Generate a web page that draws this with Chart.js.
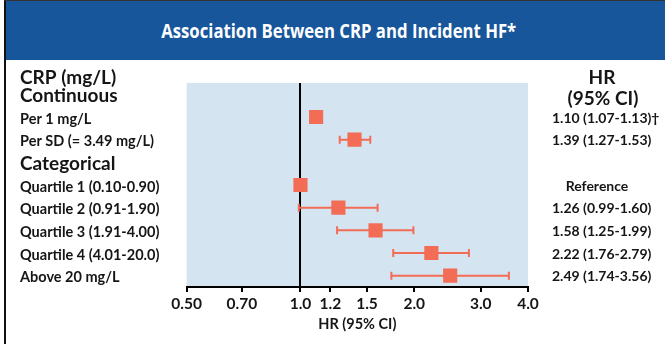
<!DOCTYPE html>
<html>
<head>
<meta charset="utf-8">
<script src="https://cdn.jsdelivr.net/npm/chart.js@4/dist/chart.umd.min.js"></script>
<style>
  html, body { margin: 0; padding: 0; background: #fff; }
  #wrap { position: relative; width: 665px; height: 344px; overflow: hidden; background: #fff; }
  #chart { position: absolute; left: 0; top: 0; }
  #title {
    position: absolute; left: 6px; top: 1px; right: 0; height: 59px;
    background: #17569a; color: #fff;
    display: flex; align-items: center; justify-content: center;
    font: bold 19px "Open Sans", sans-serif;
    padding-left: 6px; box-sizing: border-box;
  }
  #title span { display: inline-block; transform: scaleX(0.88); white-space: nowrap; }
  #frame { position: absolute; left: 4px; top: 0; width: 2px; height: 344px; background: #111; }
  #topline { position: absolute; left: 4px; top: 0; right: 0; height: 1px; background: #333; }
</style>
</head>
<body>
<div id="wrap">
  <canvas id="chart" width="665" height="344"></canvas>
  <div id="title"><span>Association Between CRP and Incident HF*</span></div>
  <div id="frame"></div>
  <div id="topline"></div>
</div>
<script>
// Hazard ratios of incident heart failure by CRP level
const rowLabels = [
  'Per 1 mg/L',
  'Per SD (= 3.49 mg/L)',
  'Quartile 1 (0.10-0.90)',
  'Quartile 2 (0.91-1.90)',
  'Quartile 3 (1.91-4.00)',
  'Quartile 4 (4.01-20.0)',
  'Above 20 mg/L'
];
const groupHeadings = ['Continuous', 'Categorical'];
const hr     = [1.10, 1.39, 1.00, 1.26, 1.58, 2.22, 2.49];
const ciLow  = [1.07, 1.27, null, 0.99, 1.25, 1.76, 1.74];
const ciHigh = [1.13, 1.53, null, 1.60, 1.99, 2.79, 3.56];
const rowNotes = ['\u2020', '', '', '', '', '', ''];
const referenceRow = 'Quartile 1 (0.10-0.90)';
const xTicks = [0.5, 0.7, 1.0, 1.2, 1.5, 2.0, 3.0, 4.0];
const xTickLabels = ['0.50', '0.70', '1.0', '1.2', '1.5', '2.0', '3.0', '4.0'];

// category slots: group headings interleaved with their rows
const yLabels = [groupHeadings[0], rowLabels[0], rowLabels[1], groupHeadings[1], ...rowLabels.slice(2)];

const FONT = 'Lato, "Open Sans", sans-serif';
const INK = '#151515';
const MARK = '#f26c56';
const PLOT_BG = '#d4e5f1';

function hrText(i) {
  if (rowLabels[i] === referenceRow) return 'Reference';
  return hr[i].toFixed(2) + ' (' + ciLow[i].toFixed(2) + '-' + ciHigh[i].toFixed(2) + ')' + rowNotes[i];
}

const plotBackground = {
  id: 'plotBackground',
  beforeDraw(chart) {
    const { ctx, chartArea: a } = chart;
    ctx.save();
    ctx.fillStyle = PLOT_BG;
    ctx.fillRect(a.left, a.top, a.right - a.left, a.bottom - a.top);
    ctx.restore();
  }
};

const whiskers = {
  id: 'whiskers',
  beforeDatasetsDraw(chart) {
    const { ctx, scales: { x, y } } = chart;
    ctx.save();
    ctx.strokeStyle = MARK;
    ctx.lineWidth = 2;
    rowLabels.forEach((r, i) => {
      if (ciLow[i] == null) return;
      const py = y.getPixelForValue(yLabels.indexOf(r));
      const x0 = x.getPixelForValue(ciLow[i]);
      const x1 = x.getPixelForValue(ciHigh[i]);
      ctx.beginPath();
      ctx.moveTo(x0, py); ctx.lineTo(x1, py);
      ctx.moveTo(x0, py - 4); ctx.lineTo(x0, py + 4);
      ctx.moveTo(x1, py - 4); ctx.lineTo(x1, py + 4);
      ctx.stroke();
    });
    ctx.restore();
  }
};

const sideText = {
  id: 'sideText',
  afterDraw(chart) {
    const { ctx, scales: { y }, chartArea: a } = chart;
    ctx.save();
    ctx.fillStyle = INK;
    ctx.textBaseline = 'middle';
    ctx.font = 'bold 19px ' + FONT;
    ctx.textAlign = 'left';
    ctx.fillText('CRP (mg/L)', 20, 78);
    ctx.textAlign = 'center';
    ctx.fillText('HR', 602, 78);
    ctx.fillText('(95% CI)', 603, 99);
    ctx.font = 'bold 14px ' + FONT;
    rowLabels.forEach((r, i) => {
      const py = y.getPixelForValue(yLabels.indexOf(r)) + 1;
      if (r === referenceRow) {
        ctx.textAlign = 'center';
        ctx.fillText(hrText(i), 597, py);
      } else {
        ctx.textAlign = 'left';
        ctx.fillText(hrText(i), a.right + 24, py);
      }
    });
    ctx.restore();
  }
};

new Chart(document.getElementById('chart'), {
  type: 'scatter',
  data: {
    datasets: [{
      data: rowLabels.map((r, i) => ({ x: hr[i], y: r })),
      pointStyle: 'rect',
      pointRadius: 10,
      pointHoverRadius: 10,
      backgroundColor: MARK,
      borderColor: MARK,
      borderWidth: 0
    }]
  },
  options: {
    responsive: false,
    animation: false,
    devicePixelRatio: 1,
    layout: { padding: { left: 20, right: 137, top: 83, bottom: 0 } },
    plugins: { legend: { display: false }, tooltip: { enabled: false } },
    scales: {
      x: {
        type: 'logarithmic',
        min: 0.5,
        max: 4,
        afterBuildTicks: (s) => { s.ticks = xTicks.map(v => ({ value: v })); },
        afterFit: (s) => { s.height = 57; },
        ticks: {
          autoSkip: false,
          maxRotation: 0,
          padding: 3,
          color: INK,
          font: { family: FONT, size: 15.5, weight: 'bold' },
          callback: (v) => { const i = xTicks.indexOf(v); return i >= 0 ? xTickLabels[i] : ''; }
        },
        grid: {
          drawOnChartArea: true,
          color: (c) => (c.tick && c.tick.value === 1 ? '#000' : 'rgba(0,0,0,0)'),
          lineWidth: 2,
          tickColor: '#000',
          tickLength: 5,
          tickWidth: 2
        },
        border: { display: true, color: '#000', width: 2 },
        title: {
          display: true,
          text: 'HR (95% CI)',
          color: INK,
          font: { family: FONT, size: 14.5, weight: 'bold' },
          padding: { top: 2, bottom: 11 }
        }
      },
      y: {
        type: 'category',
        labels: yLabels,
        offset: true,
        afterFit: (s) => { s.width = 166.7; },
        grid: { display: false },
        border: { display: false },
        ticks: {
          autoSkip: false,
          crossAlign: 'far',
          labelOffset: 2,
          color: INK,
          font: (c) => groupHeadings.includes(yLabels[c.index])
            ? { family: FONT, size: 19, weight: 'bold' }
            : { family: FONT, size: 14.5, weight: 'bold' }
        }
      }
    }
  },
  plugins: [plotBackground, whiskers, sideText]
});
</script>
</body>
</html>
